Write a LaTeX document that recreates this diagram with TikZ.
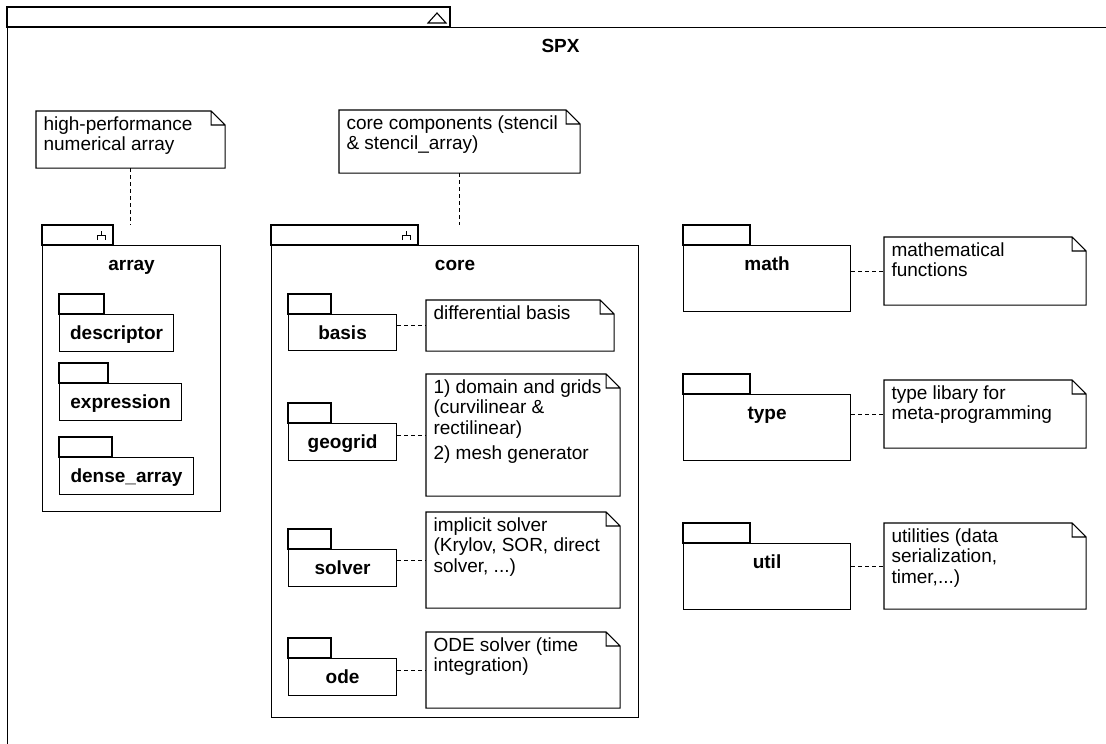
\documentclass[tikz,border=0pt]{standalone}
\usepackage{fontspec}
\setmainfont{Liberation Sans}
\newcommand\umltext{\fontsize{19pt}{20.4pt}\selectfont}
% lines of a note, baseline on the first line
\newcommand\notelines[1]{\begin{tabular}[t]{@{}l@{}}#1\end{tabular}}
\tikzset{
  x=1pt, y=-1pt,
  every picture/.style={line width=1.1pt},
  pkgbody/.style={draw, anchor=north west, inner sep=0pt},
  pkgname/.style={anchor=base, yshift=-25pt, inner sep=0pt, font=\umltext\bfseries},
  notebox/.style={anchor=north west, inner sep=0pt},
  notetext/.style={anchor=base west, xshift=7pt, yshift=-19.5pt, inner sep=0pt,
                   font=\umltext},
  conn/.style={dash pattern=on 4pt off 3pt, line width=1pt},
}
\begin{document}
\begin{tikzpicture}
\useasboundingbox (0,0) rectangle (1106,744);
\clip (0,0) rectangle (1106,744);

% enclosing package SPX
\node[pkgbody, minimum width=1106pt, minimum height=740pt,
      label={[pkgname]north:SPX}] (spx) at (7,27) {};
\draw (spx.north west) rectangle ([xshift=443pt, yshift=20pt]spx.north west);
\draw (428,23) -- (446,23) -- (437,13) -- cycle;

% packages
\node[pkgbody, minimum width=178pt, minimum height=266pt, label={[pkgname]north:array}] (array) at (42,245) {};
\node[pkgbody, minimum width=367pt, minimum height=472pt, label={[pkgname]north:core}] (core) at (271,245) {};

\node[pkgbody, minimum width=114pt, minimum height=37pt, label={[pkgname]north:descriptor}] (descriptor) at (59,314) {};
\node[pkgbody, minimum width=122pt, minimum height=37pt, label={[pkgname]north:expression}] (expression) at (59,383) {};
\node[pkgbody, minimum width=134pt, minimum height=37pt, label={[pkgname]north:dense\_array}] (densearray) at (59,457) {};

\node[pkgbody, minimum width=108pt, minimum height=36pt, label={[pkgname]north:basis}] (basis) at (288,314) {};
\node[pkgbody, minimum width=108pt, minimum height=37pt, label={[pkgname]north:geogrid}] (geogrid) at (288,423) {};
\node[pkgbody, minimum width=108pt, minimum height=37pt, label={[pkgname]north:solver}] (solver) at (288,549) {};
\node[pkgbody, minimum width=108pt, minimum height=37pt, label={[pkgname]north:ode}] (ode) at (288,658) {};

\node[pkgbody, minimum width=167pt, minimum height=66pt, label={[pkgname]north:math}] (math) at (683,245) {};
\node[pkgbody, minimum width=167pt, minimum height=66pt, label={[pkgname]north:type}] (type) at (683,394) {};
\node[pkgbody, minimum width=167pt, minimum height=66pt, label={[pkgname]north:util}] (util) at (683,543) {};

% package tabs
\foreach \n/\w in {array/71, core/147, descriptor/45, expression/49, densearray/53,
                   basis/43, geogrid/43, solver/43, ode/43, math/67, type/67, util/67}
  \draw (\n.north west) rectangle ([xshift=\w pt, yshift=20pt]\n.north west);

% sub-package marks on tabs
\foreach \n/\w in {array/71, core/147}
  \draw[line width=0.9pt] ([shift={(\w-12,-14)}]\n.north west) -- ++(0,4)
        ([shift={(\w-16,-5)}]\n.north west) -- ++(0,-5) -- ++(8,0) -- ++(0,5);

% notes
\node[notebox, minimum width=188pt, minimum height=56pt,
      label={[notetext]north west:\notelines{high-performance\\numerical array}}] (nArr) at (36,111) {};
\node[notebox, minimum width=240pt, minimum height=62pt,
      label={[notetext]north west:\notelines{core components (stencil\\\& stencil\_array)}}] (nCore) at (339,110) {};
\node[notebox, minimum width=187pt, minimum height=50pt,
      label={[notetext]north west:\notelines{differential basis}}] (nBasis) at (426,300) {};
\node[notebox, minimum width=193pt, minimum height=121pt,
      label={[notetext]north west:\notelines{1) domain and grids\\(curvilinear \&\\rectilinear)\\[4.6pt]2) mesh generator}}] (nGeo) at (426,374) {};
\node[notebox, minimum width=193pt, minimum height=95pt,
      label={[notetext]north west:\notelines{implicit solver\\(Krylov, SOR, direct\\solver, ...)}}] (nSolver) at (426,512) {};
\node[notebox, minimum width=193pt, minimum height=75pt,
      label={[notetext]north west:\notelines{ODE solver (time\\integration)}}] (nOde) at (426,632) {};
\node[notebox, minimum width=201pt, minimum height=67pt,
      label={[notetext]north west:\notelines{mathematical\\functions}}] (nMath) at (884,237) {};
\node[notebox, minimum width=201pt, minimum height=67pt,
      label={[notetext]north west:\notelines{type libary for\\meta-programming}}] (nType) at (884,380) {};
\node[notebox, minimum width=201pt, minimum height=85pt,
      label={[notetext]north west:\notelines{utilities (data\\serialization,\\timer,...)}}] (nUtil) at (884,523) {};

% note outlines with folded corner
\foreach \n in {nArr, nCore, nBasis, nGeo, nSolver, nOde, nMath, nType, nUtil}
  \draw (\n.north west) -- ([xshift=-14pt]\n.north east) -- ([yshift=-14pt]\n.north east)
        -- (\n.south east) -- (\n.south west) -- cycle
        ([xshift=-14pt]\n.north east) |- ([yshift=-14pt]\n.north east);

% note anchors
\coordinate (arrTop) at ([yshift=20pt]array.north);
\coordinate (coreTop) at ([yshift=20pt]core.north);
\draw[conn] (nArr.south) -- (nArr.south |- arrTop);
\draw[conn] (nCore.south) -- (nCore.south |- coreTop);
\foreach \p/\n in {basis/nBasis, geogrid/nGeo, solver/nSolver, ode/nOde,
                   math/nMath, type/nType, util/nUtil}
  \draw[conn] (\p.east |- \n.west) -- (\n.west);
\end{tikzpicture}
\end{document}
